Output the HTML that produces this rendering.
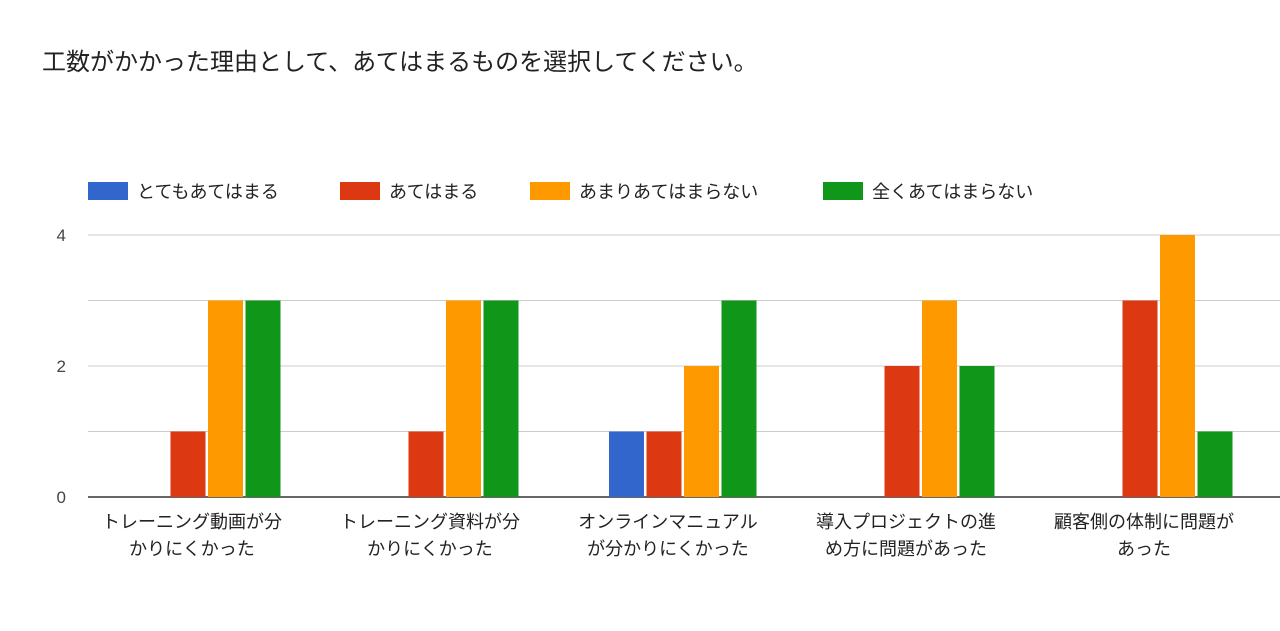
<!DOCTYPE html>
<html><head><meta charset="utf-8"><style>
body{margin:0;background:#fff;font-family:"Liberation Sans","Noto Sans CJK JP",sans-serif;}
svg text{font-family:"Liberation Sans","Noto Sans CJK JP",sans-serif;}
</style></head><body>
<svg width="1280" height="626">
<text x="42" y="70" font-size="24" fill="#222">工数がかかった理由として、あてはまるものを選択してください。</text>
<g id="legend"></g><g id="grid"></g><g id="bars"></g><g id="labels"></g>
</svg>
<script>
const categories=[["トレーニング動画が分","かりにくかった"],["トレーニング資料が分","かりにくかった"],["オンラインマニュアル","が分かりにくかった"],["導入プロジェクトの進","め方に問題があった"],["顧客側の体制に問題が","あった"]];
const seriesNames=["とてもあてはまる","あてはまる","あまりあてはまらない","全くあてはまらない"];
const s1=[0,0,1,0,0];
const s2=[1,1,1,2,3];
const s3=[3,3,2,3,4];
const s4=[3,3,3,2,1];
const yTicks=[0,2,4];
const colors=["#3366cc","#dc3912","#ff9900","#109618"];
const NS="http://www.w3.org/2000/svg";
const x0=88,x1=1278,y0=497,unit=65.5;
const y=v=>y0-v*unit;
const gw=(x1-x0)/categories.length;
const cx=i=>x0+gw*(i+0.5);
function mk(tag,attrs,parent){const e=document.createElementNS(NS,tag);for(const k in attrs)e.setAttribute(k,attrs[k]);document.getElementById(parent).appendChild(e);return e;}
// legend
const lx=[88,340,530,823];
seriesNames.forEach((n,i)=>{
 const r=mk("rect",{x:lx[i],y:182,width:40,height:18,fill:colors[i]},"legend");
 
 
 const t=mk("text",{x:lx[i]+49,y:198,"font-size":18,fill:"#222"},"legend");
 t.textContent=n;
 
 
});
// grid
for(let v=1;v<=4;v++){
 const l=mk("line",{x1:x0,x2:1280,y1:y(v),y2:y(v),stroke:"#ccc","stroke-width":1},"grid");
 
 
}
yTicks.forEach(v=>{
 const t=mk("text",{x:66,y:y(v)+6,"font-size":17,fill:"#444","text-anchor":"end"},"grid");
 t.textContent=v;
 
 
});
// bars
const series=[s1,s2,s3,s4];
const bw=35,step=37.5;
series.forEach((s,si)=>{
 s.forEach((v,i)=>{
  if(v<=0)return;
  const bx=cx(i)-2*step+si*step+1;
  const r=mk("rect",{x:bx,y:y(v),width:bw,height:y0-y(v),fill:colors[si]},"bars");
  
  
 });
});
const ax=mk("line",{x1:x0,x2:1280,y1:y0,y2:y0,stroke:"#333","stroke-width":1.5},"grid");


// labels
categories.forEach((c,i)=>{
 c.forEach((ln,j)=>{
  const t=mk("text",{x:cx(i)-15,y:528+j*27,"font-size":18,fill:"#222","text-anchor":"middle"},"labels");
  t.textContent=ln;
  
  
 });
});
</script>
</body></html>
